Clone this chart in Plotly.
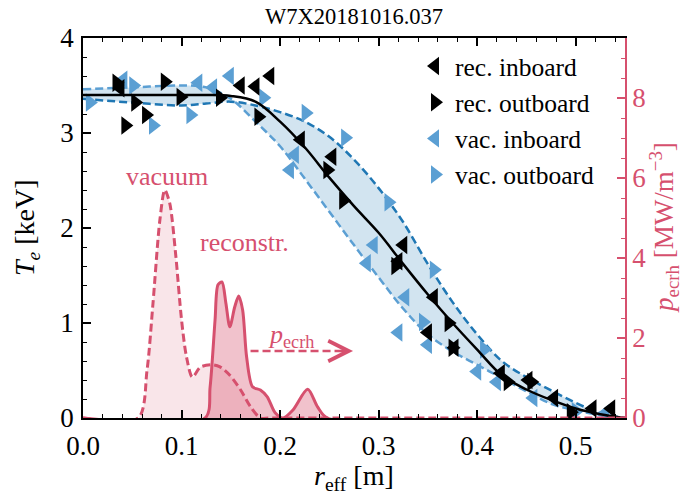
import plotly.graph_objects as go

# ---- Te profile fits on a shared r_eff grid [m], Te in keV ----
r_fit = [0.0, 0.05, 0.1, 0.125, 0.15, 0.175, 0.2, 0.225, 0.25, 0.275, 0.3,
         0.325, 0.35, 0.375, 0.4, 0.425, 0.45, 0.475, 0.5, 0.525, 0.55]
te_fit_rec = [3.40, 3.40, 3.40, 3.40, 3.39, 3.33, 3.12, 2.85, 2.53, 2.23, 1.95,
              1.62, 1.30, 1.00, 0.72, 0.45, 0.30, 0.19, 0.10, 0.04, 0.0]
te_fit_vac_hi = [3.36, 3.32, 3.29, 3.31, 3.33, 3.29, 3.22, 3.12, 2.96, 2.72, 2.42,
                 2.06, 1.62, 1.22, 0.88, 0.60, 0.43, 0.29, 0.16, 0.05, 0.0]
te_fit_vac_lo = [3.46, 3.48, 3.50, 3.48, 3.36, 3.12, 2.86, 2.52, 2.17, 1.82, 1.48,
                 1.15, 0.88, 0.70, 0.56, 0.42, 0.28, 0.15, 0.08, 0.03, 0.0]

# ---- Thomson data points ----
r_rec_in = [0.038, 0.16, 0.175, 0.19, 0.221, 0.253, 0.325, 0.32, 0.356, 0.35,
            0.377, 0.424, 0.452, 0.478, 0.517, 0.536]
te_rec_in = [3.47, 3.50, 3.49, 3.60, 2.93, 2.75, 1.82, 1.65, 1.27, 0.90,
             0.74, 0.47, 0.40, 0.21, 0.10, 0.10]

r_rec_out = [0.034, 0.053, 0.064, 0.043, 0.083, 0.099, 0.139, 0.178, 0.248, 0.264,
             0.317, 0.371, 0.375, 0.431, 0.455, 0.495]
te_rec_out = [3.53, 3.32, 3.19, 3.08, 3.54, 3.38, 3.37, 3.17, 2.61, 2.29,
              1.60, 1.00, 0.74, 0.38, 0.38, 0.06]

r_vac_in = [0.041, 0.117, 0.132, 0.149, 0.215, 0.21, 0.295, 0.288, 0.327, 0.32,
            0.35, 0.40, 0.42, 0.457, 0.53]
te_vac_in = [3.56, 3.53, 3.48, 3.60, 2.77, 2.61, 1.82, 1.63, 1.27, 0.90,
             0.77, 0.49, 0.38, 0.21, 0.05]

r_vac_out = [0.007, 0.051, 0.071, 0.109, 0.183, 0.226, 0.266, 0.31, 0.356, 0.345,
             0.407, 0.50]
te_vac_out = [3.32, 3.50, 3.08, 3.19, 3.37, 3.21, 2.95, 2.27, 1.56, 1.01,
              0.72, 0.07]

# ---- ECRH power density [MW/m^3] ----
r_p_vac = [0.0, 0.056, 0.065, 0.071, 0.078, 0.083, 0.088, 0.094, 0.1, 0.105,
           0.111, 0.119, 0.131, 0.139, 0.149, 0.16, 0.17, 0.18, 0.19, 0.55]
p_vac = [0.0, 0.0, 1.2, 2.86, 4.95, 5.7, 5.37, 4.1, 2.45, 1.53,
         1.02, 1.27, 1.33, 1.28, 1.07, 0.70, 0.28, 0.0, 0.0, 0.0]

r_p_rec = [0.0, 0.124, 0.129, 0.134, 0.137, 0.141, 0.145, 0.149, 0.154, 0.158,
           0.162, 0.166, 0.172, 0.18, 0.187, 0.195, 0.203, 0.213, 0.228, 0.238,
           0.248, 0.55]
p_rec = [0.0, 0.0, 0.78, 2.45, 3.33, 3.40, 2.87, 2.28, 2.78, 3.05,
         2.70, 1.53, 0.78, 0.70, 0.53, 0.13, 0.0, 0.20, 0.72, 0.28,
         0.0, 0.0]

BLACK = "#000000"
DARK_BLUE = "#1f77b4"
LIGHT_BLUE = "#5b9fd3"
PINK = "#d6506e"
FONT = "Liberation Serif"
DASH = "8px,4px"

W, H = 684, 498
L, R, T, B = 83, 59, 38, 80
pw, ph = W - L - R, H - T - B


def px_x(p):
    return (p - L) / pw


def px_y(p):
    return (H - B - p) / ph


fig = go.Figure()

# uncertainty band between the two vacuum-fit curves
fig.add_trace(go.Scatter(x=r_fit, y=te_fit_vac_lo, mode="lines",
                         line=dict(color=LIGHT_BLUE, width=2.5, dash=DASH, shape="spline"),
                         showlegend=False, hoverinfo="skip"))
fig.add_trace(go.Scatter(x=r_fit, y=te_fit_vac_hi, mode="lines",
                         line=dict(color=DARK_BLUE, width=2.5, dash=DASH, shape="spline"),
                         fill="tonexty", fillcolor="rgba(31,119,180,0.2)", showlegend=False, hoverinfo="skip"))

marker_sets = [
    ("vac. inboard", r_vac_in, te_vac_in, "triangle-left", LIGHT_BLUE, 3),
    ("vac. outboard", r_vac_out, te_vac_out, "triangle-right", LIGHT_BLUE, 4),
    ("rec. inboard", r_rec_in, te_rec_in, "triangle-left", BLACK, 1),
    ("rec. outboard", r_rec_out, te_rec_out, "triangle-right", BLACK, 2),
]
for name, xs, ys, sym, col, rank in marker_sets:
    fig.add_trace(go.Scatter(x=xs, y=ys, mode="markers", name=name,
                             marker=dict(symbol=sym, size=16, color=col, line=dict(width=0)),
                             legendrank=rank, legendgroup=name))

fig.add_trace(go.Scatter(x=r_fit, y=te_fit_rec, mode="lines", line=dict(color=BLACK, width=2.5, shape="spline"),
                         showlegend=False, hoverinfo="skip"))

# ECRH deposition profiles on the secondary axis
fig.add_trace(go.Scatter(x=r_p_vac, y=p_vac, yaxis="y2", mode="lines",
                         line=dict(color=PINK, width=3, dash=DASH, shape="spline", smoothing=0.8),
                         fill="tozeroy", fillcolor="rgba(214,80,110,0.15)", showlegend=False, hoverinfo="skip"))
fig.add_trace(go.Scatter(x=r_p_rec, y=p_rec, yaxis="y2", mode="lines",
                         line=dict(color=PINK, width=3, shape="spline", smoothing=0.8),
                         fill="tozeroy", fillcolor="rgba(214,80,110,0.35)", showlegend=False, hoverinfo="skip"))

# dashed arrow pointing toward the p_ecrh axis
fig.add_shape(type="line", xref="x", yref="y2", x0=0.17, x1=0.266, y0=1.675, y1=1.675,
              line=dict(color=PINK, width=2.5, dash=DASH))
fig.add_annotation(x=0.274, y=1.675, xref="x", yref="y2", ax=-14, ay=0, text="",
                   showarrow=True, arrowhead=5, arrowsize=1.6, arrowwidth=2.5, arrowcolor=PINK)

fig.add_annotation(x=0.085, y=6.05, xref="x", yref="y2", text="vacuum", showarrow=False,
                   font=dict(family=FONT, size=26, color=PINK))
fig.add_annotation(x=0.164, y=4.4, xref="x", yref="y2", text="reconstr.", showarrow=False,
                   font=dict(family=FONT, size=26, color=PINK))
fig.add_annotation(x=0.211, y=2.05, xref="x", yref="y2", text="<i>p</i><sub>ecrh</sub>", showarrow=False,
                   font=dict(family=FONT, size=26, color=PINK))

# axis titles
fig.add_annotation(x=px_x(26), y=0.5, xref="paper", yref="paper", xanchor="center", yanchor="middle",
                   text="<i>T</i><sub><i>e</i></sub> [keV]",
                   showarrow=False, textangle=-90, font=dict(family=FONT, size=28, color=BLACK))
fig.add_annotation(x=0.5, y=px_y(477), xref="paper", yref="paper", xanchor="center", yanchor="middle",
                   text="<i>r</i><sub>eff</sub> [m]",
                   showarrow=False, font=dict(family=FONT, size=28, color=BLACK))
fig.add_annotation(x=px_x(664), y=0.5, xref="paper", yref="paper", xanchor="center", yanchor="middle",
                   text="<i>p</i><sub>ecrh</sub> [MW/m<sup>−3</sup>]",
                   showarrow=False, textangle=-90, font=dict(family=FONT, size=27, color=PINK))

common_ticks = dict(ticks="inside", tickwidth=1.5, showgrid=False, zeroline=False)

fig.update_layout(
    width=W, height=H,
    margin=dict(l=L, r=R, t=T, b=B),
    paper_bgcolor="white", plot_bgcolor="white",
    font=dict(family=FONT, size=27, color=BLACK),
    title=dict(text="W7X20181016.037", x=(L + pw / 2) / W, xanchor="center", y=1 - 16 / H, yanchor="middle",
               font=dict(family=FONT, size=22.5, color=BLACK)),
    xaxis=dict(range=[0, 0.55], dtick=0.1, tick0=0, tickformat=".1f", ticklen=8, ticklabelstandoff=3,
               minor=dict(ticks="inside", dtick=0.02, ticklen=4, tickwidth=1.2, tickcolor=BLACK),
               showline=True, linecolor=BLACK, linewidth=1.5, mirror="ticks", tickcolor=BLACK,
               tickfont=dict(size=27), **common_ticks),
    yaxis=dict(range=[0, 4], dtick=1, tick0=0, ticklen=8, ticklabelstandoff=2,
               minor=dict(ticks="inside", dtick=0.2, ticklen=4, tickwidth=1.2, tickcolor=BLACK),
               showline=True, linecolor=BLACK, linewidth=1.5, tickcolor=BLACK,
               tickfont=dict(size=27), **common_ticks),
    yaxis2=dict(range=[0, 9.5], dtick=2, tick0=0, ticklen=8, overlaying="y", side="right",
                minor=dict(ticks="inside", dtick=0.5, ticklen=4, tickwidth=1.2, tickcolor=PINK),
                showline=True, linecolor=PINK, linewidth=1.5, tickcolor=PINK,
                tickfont=dict(size=27, color=PINK), **common_ticks),
    legend=dict(x=px_x(415), y=px_y(43), xanchor="left", yanchor="top",
                bgcolor="rgba(0,0,0,0)", font=dict(family=FONT, size=25.5),
                traceorder="grouped", tracegroupgap=0, itemwidth=30),
    showlegend=True,
)

fig.write_html("out.html")
